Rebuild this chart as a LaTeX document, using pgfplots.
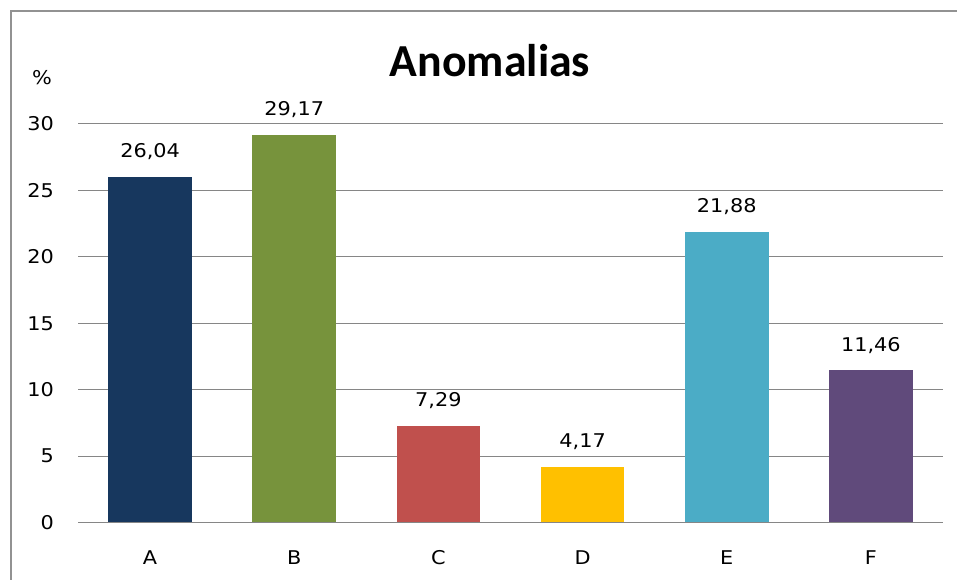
\documentclass[border=0pt]{standalone}
\usepackage{fontspec}
\setmainfont{DejaVu Sans}[FakeStretch=1.1]
\newfontfamily\titlefont{Carlito}
\usepackage{pgfplots}
\pgfplotsset{compat=1.18}
\definecolor{cA}{HTML}{17375E}
\definecolor{cB}{HTML}{77933C}
\definecolor{cC}{HTML}{C0504D}
\definecolor{cD}{HTML}{FFC000}
\definecolor{cE}{HTML}{4BACC6}
\definecolor{cF}{HTML}{604A7B}
\definecolor{gridg}{HTML}{868686}
\begin{document}
\begin{tikzpicture}[x=1bp,y=1bp]
\useasboundingbox (0,0) rectangle (957,580);
\fill[white] (0,0) rectangle (957,580);
\draw[gridg!90, line width=2bp] (11,0) -- (11,569) -- (957,569);
\node[font=\titlefont\bfseries\fontsize{46}{50}\selectfont, anchor=base] at (490,503) {Anomalias};
\node[font=\fontsize{19}{22}\selectfont] at (42,502) {\%};
\begin{axis}[
  at={(78bp,57.5bp)}, anchor=south west,
  scale only axis, width=865bp, height=398.5bp,
  xmin=-0.5, xmax=5.5, ymin=0, ymax=30,
  ytick={0,5,...,30},
  xtick={0,...,5}, xticklabels={A,B,C,D,E,F},
  axis line style={draw=none},
  major tick length=0pt,
  ymajorgrids, grid style={gridg, line width=1bp},
  tick label style={font=\fontsize{19}{22}\selectfont},
  /pgf/number format/assume math mode=true,
  yticklabel style={anchor=east, inner sep=0pt, xshift=-24bp},
  xticklabel style={anchor=center, inner sep=0pt, yshift=-35bp},
  ybar, bar width=0.58, bar shift=0pt,
  clip=false,
  nodes near coords={\pgfmathprintnumber[use comma, fixed, fixed zerofill, precision=2, assume math mode=true]{\pgfplotspointmeta}},
  nodes near coords style={font=\fontsize{19}{22}\selectfont, anchor=center, yshift=25bp, inner sep=0pt},
]
\addplot[fill=cA, draw=none] coordinates {(0,26.04)};
\addplot[fill=cB, draw=none] coordinates {(1,29.17)};
\addplot[fill=cC, draw=none] coordinates {(2,7.29)};
\addplot[fill=cD, draw=none] coordinates {(3,4.17)};
\addplot[fill=cE, draw=none] coordinates {(4,21.88)};
\addplot[fill=cF, draw=none] coordinates {(5,11.46)};
\addplot[sharp plot, gridg, line width=1.2bp, nodes near coords={}, forget plot] coordinates {(-0.5,0) (5.5,0)};
\end{axis}
\end{tikzpicture}
\end{document}
